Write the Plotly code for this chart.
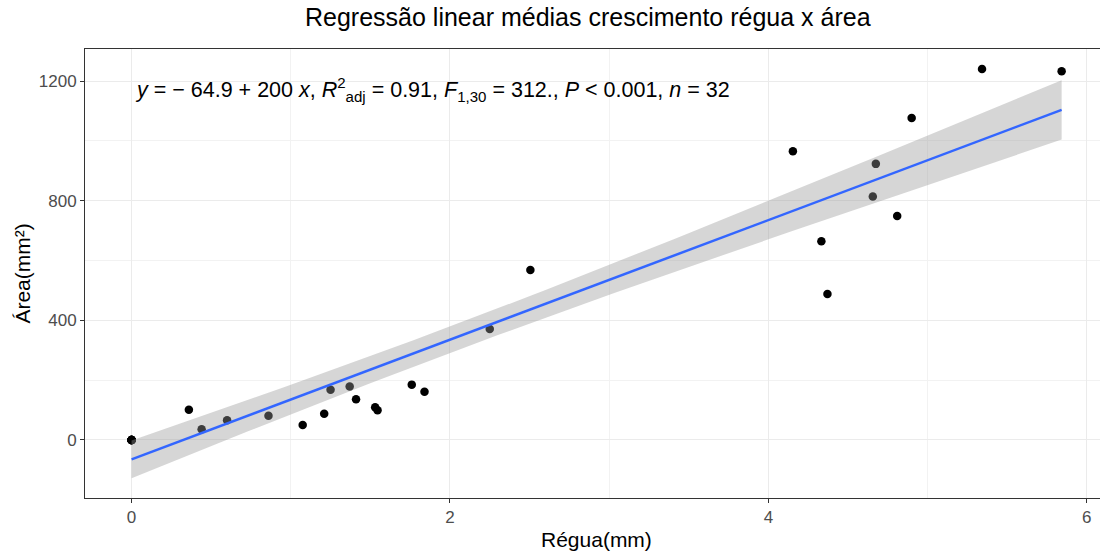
import numpy as np
import plotly.graph_objects as go

regua = [0.0, 0.0, 0.0, 0.0, 0.0, 0.0, 0.0, 0.0,
         0.36, 0.44, 0.60, 0.86, 1.075, 1.21, 1.25, 1.37, 1.41, 1.53, 1.545,
         1.76, 1.84, 2.25, 2.505, 4.154, 4.333, 4.371, 4.656, 4.675, 4.809, 4.90,
         5.342, 5.842]
area = [0, 0, 0, 0, 0, 0, 0, 0,
        101, 36, 66, 81, 50, 88, 168, 179, 136, 109, 99,
        185, 161, 371, 568, 965, 664, 488, 814, 923, 749, 1076, 1240, 1233]

intercept = -64.9
slope = 200.0
n_obs = 32
x_ticks = [0, 2, 4, 6]
y_ticks = [0, 400, 800, 1200]

x = np.array(regua)
y = np.array(area)
xf = np.linspace(x.min(), x.max(), 80)
yf = intercept + slope * xf
res = y - (intercept + slope * x)
n = len(x)
s = np.sqrt(np.sum(res ** 2) / (n - 2))
xbar = x.mean()
sxx = np.sum((x - xbar) ** 2)
tval = 2.042
se = s * np.sqrt(1 / n + (xf - xbar) ** 2 / sxx)
lo = yf - tval * se
hi = yf + tval * se

FONT = "Liberation Sans, Arial"

fig = go.Figure()
fig.add_trace(go.Scatter(x=x, y=y, mode="markers",
                         marker=dict(color="black", size=8.5), showlegend=False))
fig.add_trace(go.Scatter(x=np.concatenate([xf, xf[::-1]]), y=np.concatenate([hi, lo[::-1]]),
                         fill="toself", fillcolor="rgba(153,153,153,0.4)", line=dict(width=0),
                         mode="lines", hoverinfo="skip", showlegend=False))
fig.add_trace(go.Scatter(x=xf, y=yf, mode="lines",
                         line=dict(color="#3366FF", width=2.5), showlegend=False))

ann = ("<i>y</i> = \u2212 64.9 + 200 <i>x</i>, <i>R</i><sup>2</sup><sub>adj</sub> = 0.91, "
       "<i>F</i><sub>1,30</sub> = 312., <i>P</i> &lt; 0.001, <i>n</i> = %d" % n_obs)
fig.add_annotation(x=0.012, y=1173, xref="x", yref="y", text=ann, showarrow=False,
                   xanchor="left", yanchor="middle",
                   font=dict(family=FONT, size=21.5, color="black"))

# axis titles and plot title
fig.add_annotation(x=0.5044, y=-0.093, xref="paper", yref="paper", text="Régua(mm)",
                   showarrow=False, xanchor="center", yanchor="middle",
                   font=dict(family=FONT, size=21, color="black"))
fig.add_annotation(x=-0.062, y=0.5, xref="paper", yref="paper", text="Área(mm²)",
                   showarrow=False, xanchor="center", yanchor="middle", textangle=-90,
                   font=dict(family=FONT, size=21, color="black"))
fig.add_annotation(x=0.4956, y=1.071, xref="paper", yref="paper",
                   text="Regressão linear médias crescimento régua x área",
                   showarrow=False, xanchor="center", yanchor="middle",
                   font=dict(family=FONT, size=25, color="black"))

axis_common = dict(showgrid=True, gridcolor="#EBEBEB", gridwidth=1.1, zeroline=False,
                   ticks="outside", ticklen=4, tickcolor="#333333", tickwidth=1,
                   tickfont=dict(family=FONT, size=17, color="#4D4D4D"),
                   showline=True, linecolor="#333333", linewidth=1, automargin=False)

fig.update_xaxes(range=[-0.2925, 6.083], tickvals=x_ticks, mirror=True,
                 minor=dict(showgrid=True, gridcolor="#F2F2F2", dtick=1, tick0=0, ticks=""),
                 **axis_common)
fig.update_yaxes(range=[-194, 1307], tickvals=y_ticks, mirror=False,
                 minor=dict(showgrid=True, gridcolor="#F2F2F2", dtick=200, tick0=0, ticks=""),
                 **axis_common)

fig.update_layout(
    width=1100, height=551,
    margin=dict(l=85, r=0, t=49, b=53),
    plot_bgcolor="white", paper_bgcolor="white",
)

fig.write_html("out.html", config={"displayModeBar": False},
               post_script="document.body.style.margin='0px';document.body.style.overflow='hidden';")
